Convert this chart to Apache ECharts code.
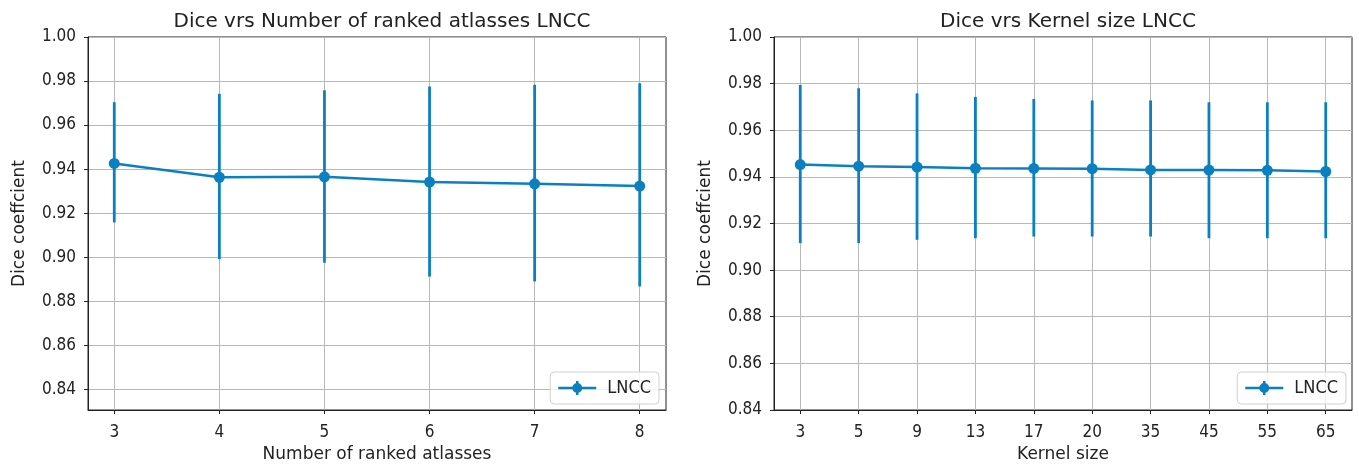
<!DOCTYPE html>
<html>
<head>
<meta charset="utf-8">
<script src="https://cdn.jsdelivr.net/npm/echarts@6/dist/echarts.min.js"></script>
<style>
html, body { margin: 0; padding: 0; background: #fff; }
#main { width: 1359px; height: 468px; }
</style>
</head>
<body>
<div id="main"></div>
<script>
// 左图: 排名图谱数量
var atlasCounts = [3, 4, 5, 6, 7, 8];
var atlasMean = [0.9426, 0.9363, 0.9365, 0.9341, 0.9333, 0.9323];
var atlasHigh = [0.9704, 0.9742, 0.9758, 0.9775, 0.9783, 0.9790];
var atlasLow = [0.9158, 0.8991, 0.8975, 0.8912, 0.8890, 0.8867];

// 右图: 核大小
var kernelSizes = ['3', '5', '9', '13', '17', '20', '35', '45', '55', '65'];
var kernelMean = [0.9453, 0.9446, 0.9442, 0.9437, 0.9436, 0.9435, 0.9430, 0.9429, 0.9428, 0.9423];
var kernelHigh = [0.9794, 0.9780, 0.9758, 0.9743, 0.9734, 0.9728, 0.9728, 0.9720, 0.9720, 0.9720];
var kernelLow = [0.9116, 0.9116, 0.9130, 0.9137, 0.9144, 0.9144, 0.9144, 0.9137, 0.9137, 0.9137];

var yTicks = [0.84, 0.86, 0.88, 0.90, 0.92, 0.94, 0.96, 0.98, 1.00];

var COLOR = '#0a80c0';
var FONT = 'DejaVu Sans Condensed';
var FONT_WIDE = 'DejaVu Sans';
var TEXT = '#222';

// 图例图标: 线 + 圆点 + 误差棒
var LEGEND_ICON = 'path://M0,5.75 L38,5.75 L38,8.25 L0,8.25 Z M17.75,0 L20.25,0 L20.25,14 L17.75,14 Z M19,2 A5,5 0 1,1 18.99,2 Z';

var byId = function(id) {
	return document.getElementById(id);
};

function pairs(xs, ys) {
	var out = [];
	for (var i = 0; i < xs.length; i++) {
		out.push([xs[i], ys[i]]);
	}
	return out;
}

function triples(xs, lo, hi) {
	var out = [];
	for (var i = 0; i < xs.length; i++) {
		out.push([xs[i], lo[i], hi[i]]);
	}
	return out;
}

// 误差棒
function renderErrorBar(params, api) {
	var p1 = api.coord([api.value(0), api.value(1)]);
	var p2 = api.coord([api.value(0), api.value(2)]);
	return {
		type: 'line',
		shape: { x1: p1[0], y1: p1[1], x2: p2[0], y2: p2[1] },
		style: { stroke: COLOR, lineWidth: 2.8 }
	};
}

function makeXAxis(idx, min, max, ticks, name, fmt) {
	return {
		gridIndex: idx,
		type: 'value',
		min: min,
		max: max,
		name: name,
		nameLocation: 'middle',
		nameGap: 36,
		nameTextStyle: { fontFamily: FONT_WIDE, fontSize: 17, color: TEXT },
		axisLine: { show: true, onZero: false, lineStyle: { color: '#222', width: 1 } },
		axisTick: { show: true, inside: false, length: 4, customValues: ticks, lineStyle: { color: '#222' } },
		axisLabel: { customValues: ticks, margin: 14, fontFamily: FONT, fontSize: 17, color: TEXT, formatter: fmt },
		splitLine: { show: true, lineStyle: { color: '#b8b8b8', width: 1 } }
	};
}

function makeYAxis(idx, min) {
	return {
		gridIndex: idx,
		type: 'value',
		min: min,
		max: 1.0,
		name: 'Dice coeffcient',
		nameLocation: 'middle',
		nameGap: 60,
		nameTextStyle: { fontFamily: FONT_WIDE, fontSize: 17, color: TEXT },
		axisLine: { show: true, onZero: false, lineStyle: { color: '#222', width: 1 } },
		axisTick: { show: true, inside: false, length: 4, customValues: yTicks, lineStyle: { color: '#222' } },
		axisLabel: { customValues: yTicks, margin: 12, fontFamily: FONT, fontSize: 17, color: TEXT,
			formatter: function(v) { return v.toFixed(2); } },
		splitLine: { show: true, lineStyle: { color: '#b8b8b8', width: 1 } }
	};
}

function makeLegend(name, right) {
	return {
		data: [{ name: name, icon: LEGEND_ICON }],
		right: right, bottom: 468 - 404,
		orient: 'vertical',
		itemWidth: 38, itemHeight: 14,
		itemGap: 0,
		padding: [7, 8, 7, 8],
		borderColor: '#d0d0d0', borderWidth: 1, borderRadius: 4,
		backgroundColor: 'rgba(255,255,255,0.8)',
		textStyle: { fontFamily: FONT, fontSize: 18, color: TEXT, padding: [0, 0, 0, 6] },
		formatter: function(n) { return n.trim(); }
	};
}

var kernelIdx = kernelSizes.map(function(k, i) { return i; });

var option = {
	backgroundColor: '#fff',
	animation: false,
	title: [{
		text: 'Dice vrs Number of ranked atlasses LNCC',
		left: 377, top: 7, textAlign: 'center',
		textStyle: { fontFamily: FONT_WIDE, fontSize: 20, fontWeight: 'normal', color: TEXT }
	}, {
		text: 'Dice vrs Kernel size LNCC',
		left: 1063, top: 7, textAlign: 'center',
		textStyle: { fontFamily: FONT_WIDE, fontSize: 20, fontWeight: 'normal', color: TEXT }
	}],
	legend: [
		makeLegend('LNCC', 1359 - 659),
		makeLegend('LNCC ', 1359 - 1346)
	],
	grid: [
		{ left: 88, right: 1359 - 666, top: 37, bottom: 468 - 412, show: true, borderColor: '#222', borderWidth: 1 },
		{ left: 774, right: 1359 - 1352, top: 37, bottom: 468 - 412, show: true, borderColor: '#222', borderWidth: 1 }
	],
	xAxis: [
		makeXAxis(0, 2.75, 8.25, atlasCounts, 'Number of ranked atlasses', function(v) { return String(v); }),
		makeXAxis(1, -0.45, 9.45, kernelIdx, 'Kernel size', function(v) { return kernelSizes[Math.round(v)]; })
	],
	yAxis: [
		makeYAxis(0, 0.8306),
		makeYAxis(1, 0.84)
	],
	series: [{
		name: 'LNCC',
		type: 'line',
		xAxisIndex: 0, yAxisIndex: 0,
		data: pairs(atlasCounts, atlasMean),
		symbol: 'circle', symbolSize: 11,
		lineStyle: { color: COLOR, width: 2.5 },
		itemStyle: { color: COLOR },
		z: 3
	}, {
		type: 'custom',
		xAxisIndex: 0, yAxisIndex: 0,
		renderItem: renderErrorBar,
		data: triples(atlasCounts, atlasLow, atlasHigh),
		z: 2
	}, {
		name: 'LNCC ',
		type: 'line',
		xAxisIndex: 1, yAxisIndex: 1,
		data: pairs(kernelIdx, kernelMean),
		symbol: 'circle', symbolSize: 11,
		lineStyle: { color: COLOR, width: 2.5 },
		itemStyle: { color: COLOR },
		z: 3
	}, {
		type: 'custom',
		xAxisIndex: 1, yAxisIndex: 1,
		renderItem: renderErrorBar,
		data: triples(kernelIdx, kernelLow, kernelHigh),
		z: 2
	}]
};

var chart = echarts.init(byId('main'));
chart.setOption(option);
</script>
</body>
</html>
